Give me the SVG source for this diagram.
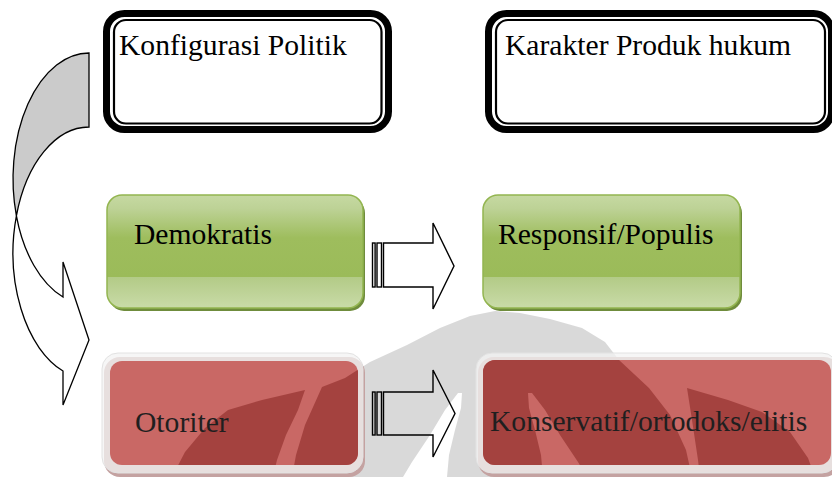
<svg xmlns="http://www.w3.org/2000/svg" width="832" height="477" viewBox="0 0 832 477">
<style>
  .lbl { font-family: "Liberation Serif", "Times New Roman", serif; font-size: 29.6px; fill: #000; }
  .lblr { font-family: "Liberation Serif", "Times New Roman", serif; font-size: 29.6px; fill: #1f1f1f; }
  .frame-outer { fill: #fff; stroke: #000; stroke-width: 7; }
  .frame-inner { fill: none; stroke: #000; stroke-width: 2.2; }
  .green { fill: url(#gGreen); stroke: #93B550; stroke-width: 1.5; }
  .green-sh { fill: #6F8C3C; }
  .red-sh { fill: #c4a2a1; }
  .red-glow { fill: #f3f3f3; fill-opacity: 0.75; stroke: #e2e2e2; stroke-width: 1; }
  .red { fill: #C96865; }
  .conn { fill: none; stroke: #000; stroke-width: 1.4; stroke-linejoin: miter; }
</style>
<defs>
  <linearGradient id="gGreen" x1="0" y1="0" x2="0" y2="1">
    <stop offset="0" stop-color="#C6D9A2"/>
    <stop offset="0.12" stop-color="#BDD296"/>
    <stop offset="0.38" stop-color="#9EBD5D"/>
    <stop offset="0.725" stop-color="#9BBB59"/>
    <stop offset="0.73" stop-color="#B3CB87"/>
    <stop offset="1" stop-color="#C9DBA8"/>
  </linearGradient>
  <mask id="wmMask" maskUnits="userSpaceOnUse" x="0" y="0" width="832" height="477">
    <path fill="#fff" d="M292,477 L296,455 L305,425 L322,387 L345,378 L370,362 L407,345 L440,328 L470,316 L495,311 L520,313 L550,319 L582,328 L605,342 L619,360 L649,388 L670,415 L686,450 L692,477 Z"/>
    <path fill="#fff" d="M172,477 L185,452 L205,428 L228,410 L262,400 L305,390 L298,410 L286,435 L277,460 L273,477 Z"/>
    <path fill="#fff" d="M687,388 L728,400 L762,412 L790,432 L808,458 L815,477 L700,477 L698,460 L692,420 Z"/>
    <path fill="#000" d="M458,393 L445,410 L430,435 L412,462 L403,477 L447,477 L449,455 L455,430 L461,408 L462,393 Z"/>
    <path fill="#000" d="M528,393 L529,408 L535,430 L541,455 L543,477 L587,477 L578,462 L560,435 L545,410 L532,393 Z"/>
  </mask>
  <clipPath id="redClip">
    <rect x="110" y="361" width="248" height="104" rx="12"/>
    <rect x="483" y="360" width="348" height="105" rx="12"/>
  </clipPath>
</defs>

<rect x="0" y="0" width="832" height="477" fill="#fff"/>

<g id="watermark">
  <rect x="0" y="0" width="832" height="477" fill="#d9d9d9" mask="url(#wmMask)"/>
</g>

<g id="node-konfigurasi">
  <rect class="frame-outer" x="106.5" y="13.5" width="282" height="116" rx="18"/>
  <rect class="frame-inner" x="114" y="20" width="267.5" height="103.5" rx="12"/>
  <text class="lbl" x="119" y="55">Konfigurasi Politik</text>
</g>

<g id="node-karakter">
  <rect class="frame-outer" x="488.5" y="13.5" width="343" height="116" rx="18"/>
  <rect class="frame-inner" x="496" y="20" width="329" height="103.5" rx="12"/>
  <text class="lbl" x="505" y="55">Karakter Produk hukum</text>
</g>

<g id="node-demokratis">
  <rect class="green-sh" x="109" y="198" width="256" height="113" rx="15"/>
  <rect class="green" x="107" y="195" width="256" height="113" rx="15"/>
  <text class="lbl" x="134" y="244">Demokratis</text>
</g>

<g id="node-responsif">
  <rect class="green-sh" x="485" y="198" width="257" height="113" rx="15"/>
  <rect class="green" x="483" y="195" width="257" height="113" rx="15"/>
  <text class="lbl" x="498" y="244">Responsif/Populis</text>
</g>

<g id="node-otoriter">
  <rect class="red-sh" x="104" y="357" width="261" height="120" rx="16"/>
  <rect class="red-glow" x="102" y="353" width="261" height="120" rx="16"/>
  <rect class="red" x="110" y="361" width="248" height="104" rx="12"/>
</g>

<g id="node-konservatif">
  <rect class="red-sh" x="478" y="357" width="362" height="120" rx="16"/>
  <rect class="red-glow" x="476" y="353" width="362" height="120" rx="16"/>
  <rect class="red" x="483" y="360" width="348" height="105" rx="12"/>
</g>

<g id="watermark-over-red" clip-path="url(#redClip)">
  <rect x="0" y="0" width="832" height="477" fill="#A4423F" mask="url(#wmMask)"/>
</g>

<g id="red-labels">
  <text class="lblr" x="135" y="432">Otoriter</text>
  <text class="lblr" x="490" y="431">Konservatif/ortodoks/elitis</text>
</g>

<g id="connectors">
  <g id="curved-arrow" stroke="#000" stroke-width="1.3" stroke-linejoin="miter">
    <path fill="#cbcbcb" d="M89,53 A76,125.8 0 0 0 16.4,215.8 A76,125.8 0 0 1 89,127 Z"/>
    <path fill="#fff" d="M16.4,215.8 A76,125.8 0 0 0 63,371 L63,405 L89,340 L63,262 L63,297 A76,125.8 0 0 1 16.4,215.8 Z"/>
  </g>
  <g id="arrow-demokratis-responsif">
    <rect class="conn" x="372.5" y="243" width="2.6" height="44"/>
    <rect class="conn" x="377" y="243" width="4.5" height="44"/>
    <path class="conn" d="M383.5,243 H433 V223 L454,266 L433,309 V287 H383.5 Z"/>
  </g>
  <g id="arrow-otoriter-konservatif">
    <rect class="conn" x="372.5" y="392" width="2.6" height="43"/>
    <rect class="conn" x="377" y="392" width="4.5" height="43"/>
    <path class="conn" d="M383.5,392 H433 V370 L455,413.5 L433,457 V435 H383.5 Z"/>
  </g>
</g>
</svg>
